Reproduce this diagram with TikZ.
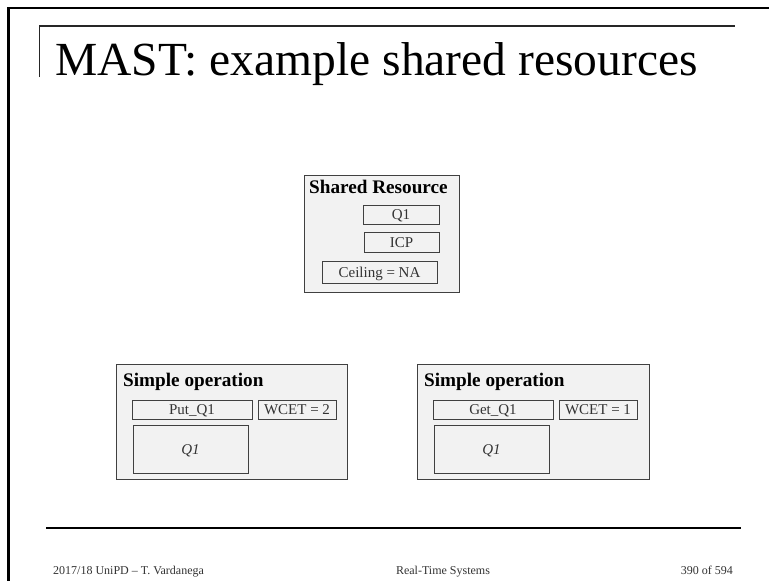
\documentclass[tikz,border=0pt]{standalone}
\usepackage{fontspec}
\setmainfont{Liberation Serif}
\begin{document}
\begin{tikzpicture}[x=1pt,y=-1pt,
  panel/.style={draw=black!75,line width=0.9pt,fill=black!5,inner sep=0pt,rectangle},
  field/.style={draw=black!75,line width=0.7pt,fill=black!5,inner sep=0pt,rectangle,
    minimum height=19pt,text height=10pt,text depth=0pt,
    font=\fontsize{15}{17}\selectfont,text=black!80},
  heading/.style={anchor=base west,inner sep=0pt,font=\fontsize{19.2}{21}\selectfont\bfseries},
  foot/.style={inner sep=0pt,font=\fontsize{12}{14}\selectfont,text=black!80}]
\useasboundingbox (0,0) rectangle (769,581);
\fill[white] (0,0) rectangle (769,581);

% slide frame and rules
\draw[line width=2.5pt,line join=miter] (769,8) -- (8.5,8) -- (8.5,581);
\draw[line width=1.2pt,line join=miter,black!85] (39.5,77) -- (39.5,26) -- (735,26);
\draw[line width=2.5pt] (46,528) -- (741,528);

% title
\node[anchor=base west,inner sep=0pt,font=\fontsize{47.5}{52}\selectfont] (title) at (55,75)
  {MAST: example shared resources};

% shared resource
\node[panel,minimum width=155pt,minimum height=117pt] (sr) at (381.5,233.5) {};
\node[heading] (srlabel) at (309,193) {Shared Resource};
\node[field,minimum width=76pt] (srname) at (401,214.5) {Q1};
\node[field,minimum width=75pt,minimum height=20pt] (srproto) at (401.5,242) {ICP};
\node[field,minimum width=115pt,minimum height=22pt] (srceil) at (379.5,272) {Ceiling = NA};

% simple operation: put
\node[panel,minimum width=231pt,minimum height=115pt] (opa) at (231.5,421.5) {};
\node[heading] (opalabel) at (123,386) {Simple operation};
\node[field,minimum width=120pt] (opaname) at (192,409.5) {Put\_Q1};
\node[field,minimum width=78pt] (opawcet) at (297,409.5) {WCET = 2};
\node[field,minimum width=115pt,minimum height=48pt,font=\fontsize{15}{17}\selectfont\itshape] (opares) at (190.5,449) {Q1};

% simple operation: get
\node[panel,minimum width=232pt,minimum height=115pt] (opb) at (533,421.5) {};
\node[heading] (opblabel) at (424,386) {Simple operation};
\node[field,minimum width=120pt] (opbname) at (493,409.5) {Get\_Q1};
\node[field,minimum width=78pt] (opbwcet) at (598,409.5) {WCET = 1};
\node[field,minimum width=115pt,minimum height=48pt,font=\fontsize{15}{17}\selectfont\itshape] (opbres) at (491.5,449) {Q1};

% footer
\node[foot,anchor=base west] (fl) at (53,574) {2017/18 UniPD -- T. Vardanega};
\node[foot,anchor=base] (fc) at (443,574) {Real-Time Systems};
\node[foot,anchor=base east] (fr) at (733,574) {390 of 594};
\end{tikzpicture}
\end{document}
